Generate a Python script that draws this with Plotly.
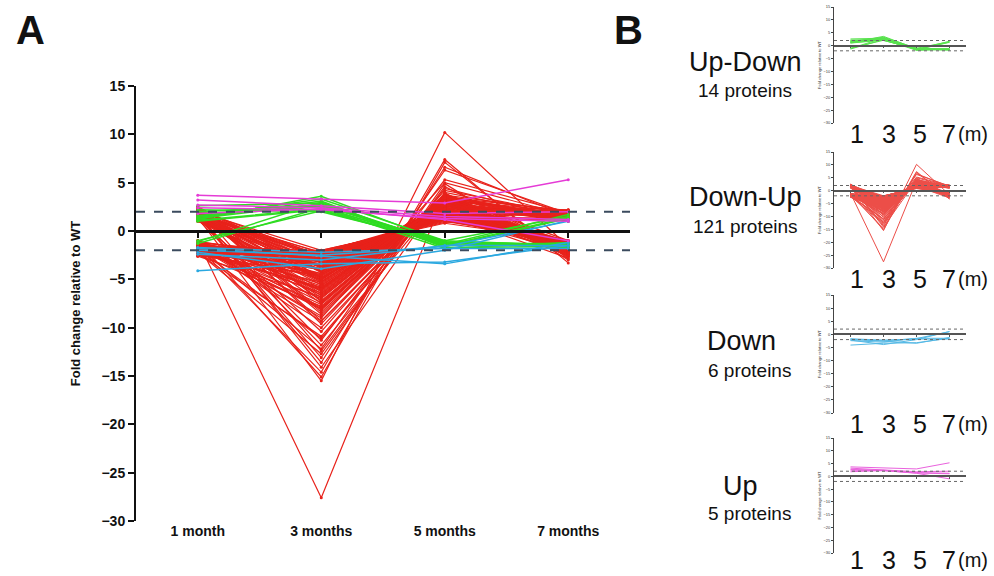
import plotly.graph_objects as go

W, H = 994, 576

months = ["1 month", "3 months", "5 months", "7 months"]
short_months = ["1", "3", "5", "7"]
xpos = [0, 1, 2, 3]
y_ticks = [15, 10, 5, 0, -5, -10, -15, -20, -25, -30]
threshold = 2

# ---- Down-Up (121 proteins, red) ----
red_1m = [1.8, -1.5, 2.2, -2.1, 1.2, -1.0, 2.5, -1.8, 1.5, -2.4, -1.2,
          1.9, -1.6, 1.1, -2.2, 2.3, -1.3, 1.4, -1.9, -2.6, 1.7, -1.1,
          2.0, -1.4, 1.3, -2.0, -1.7, 2.4, -1.2, 1.6, -2.3, 1.0, -1.5,
          -1.8, 2.1, -1.0, 1.5, -2.5, 1.8, -1.3, 2.2, -1.6, 1.2, -2.0,
          1.6, -1.9, 2.4, -1.1, 1.3, -2.2, -1.4, 1.9, -1.7, 2.0, -1.2,
          -2.4, 1.4, -1.5, 2.3, -1.0, 1.1, -1.8, 1.7, -2.1, -1.3, 2.5,
          1.5, -1.6, 2.1, -2.0, 1.2, -1.4, 1.8, -2.6, -1.1, 1.6, -1.9,
          2.2, -1.2, 1.0, -1.7, 2.0, -2.3, 1.4, -1.5, -1.0, 1.9, -2.2,
          1.3, -1.8, 2.4, -1.3, -2.5, 1.7, -1.6, 1.1, -2.0, 2.3, -1.4,
          -1.1, 1.5, -2.1, 1.8, -1.2, 2.1, -1.9, 1.3, -1.5, -2.4, 1.6,
          2.0, -1.7, 1.2, -2.2, 1.9, -1.0, -1.6, 2.4, -1.3, 1.4, -2.0]
red_3m = [-4.2, -3.1, -9.3, -2.5, -5.6, -27.6, -3.8, -6.4, -2.2, -7.8, -4.6,
          -3.3, -12.2, -5.0, -2.8, -8.4, -3.6, -15.5, -4.4, -2.1, -6.9, -3.0,
          -5.3, -2.6, -10.4, -4.0, -3.4, -7.2, -2.4, -13.6, -5.8, -3.2, -8.8,
          -2.0, -4.8, -6.1, -11.3, -3.5, -2.7, -9.0, -4.3, -14.6, -5.1, -3.9,
          -7.5, -2.3, -4.1, -6.6, -3.0, -12.7, -5.5, -2.9, -8.1, -3.7, -10.0,
          -4.7, -6.3, -2.1, -3.3, -15.1, -4.9, -7.0, -2.5, -5.9, -3.1, -9.6,
          -3.6, -2.2, -8.6, -4.5, -11.8, -3.4, -5.2, -6.8, -2.8, -13.1, -4.0,
          -2.6, -5.7, -3.8, -7.6, -2.0, -10.9, -4.2, -3.0, -6.2, -14.1, -3.5,
          -5.4, -2.4, -7.3, -3.9, -4.6, -2.7, -9.3, -6.0, -3.2, -8.2, -2.9,
          -4.4, -6.5, -3.1, -2.3, -7.9, -4.8, -11.1, -3.7, -5.0, -2.1, -6.7,
          -3.3, -8.0, -2.5, -5.3, -4.1, -7.4, -2.8, -12.4, -3.6, -4.9, -6.0]
red_5m = [2.8, 1.9, 3.3, 1.2, 2.5, 3.8, 2.1, 3.0, 1.5, 3.5, 2.4,
          1.7, 6.3, 2.9, 1.4, 3.6, 2.2, 10.2, 2.6, 1.1, 3.1, 2.0,
          3.4, 1.6, 4.2, 2.3, 1.8, 3.2, 1.3, 6.6, 2.7, 2.0, 3.7,
          0.9, 2.5, 3.0, 5.3, 1.9, 1.5, 5.0, 2.8, 7.4, 3.3, 2.1,
          3.6, 1.2, 2.4, 3.1, 1.7, 4.6, 2.9, 1.4, 3.8, 2.2, 3.5,
          2.6, 3.0, 1.0, 2.0, 7.1, 2.7, 3.4, 1.6, 3.2, 1.8, 3.9,
          2.3, 1.3, 3.7, 2.5, 3.6, 1.9, 2.8, 3.3, 1.5, 4.9, 2.4,
          1.6, 3.1, 2.2, 3.5, 0.8, 3.8, 2.6, 1.8, 3.0, 4.0, 2.1,
          2.9, 1.4, 3.4, 2.0, 2.7, 1.7, 3.6, 3.2, 2.3, 3.7, 1.9,
          2.5, 3.3, 1.8, 1.3, 3.5, 2.4, 3.9, 2.2, 2.8, 1.1, 3.0,
          2.0, 3.6, 1.5, 2.9, 2.6, 3.4, 1.7, 4.4, 2.3, 2.7, 3.1]
red_7m = [-1.5, 1.6, -2.1, -1.2, 1.9, -2.7, -1.8, 1.3, -1.0, -2.3, 1.5,
          -1.4, 1.8, -1.9, -1.1, 1.2, -2.5, -1.6, 2.0, -1.3, -1.7, 1.4,
          -2.0, -1.2, 1.7, -1.5, 1.1, -2.2, -1.4, 1.5, -1.8, 2.1, -1.0,
          1.3, -1.6, -2.4, 1.9, -1.3, -1.1, 1.6, -2.0, -3.3, 1.2, -1.5,
          -1.7, 1.4, -1.2, -2.6, 2.2, -1.9, 1.0, -1.4, -2.1, 1.8, -1.6,
          1.5, -2.3, -1.0, 1.7, -2.9, -1.5, 1.2, -1.8, 2.0, -1.3, -2.2,
          -1.1, 1.9, -1.7, -1.4, 1.3, -2.0, -1.6, 1.6, -1.2, -3.0, 1.4,
          -1.8, 1.1, -1.5, 2.1, -1.0, -2.4, 1.7, -1.3, -1.9, 1.5, -1.6,
          1.2, -2.1, -1.4, 1.8, -1.1, -1.7, 1.4, -2.5, -1.2, 2.0, -1.5,
          -1.9, 1.6, -1.3, -1.0, 1.3, -2.2, -1.6, 1.9, -1.4, -1.2, 1.1,
          -2.3, 1.5, -1.7, -1.1, 2.2, -1.4, -2.8, 1.3, -1.8, 1.0, -1.5]

# ---- Up-Down (14 proteins, green) ----
green_1m = [1.2, 1.5, 2.6, 1.3, -1.1, 1.6, -1.3, 1.0, 2.0, 1.4, -1.0, 1.8, 1.1, 2.2]
green_3m = [3.6, 3.3, 2.9, 2.8, 3.0, 2.6, 2.4, 2.2, 2.7, 3.1, 2.1, 2.5, 2.3, 2.0]
green_5m = [-1.2, -1.0, -1.3, -1.5, -1.6, -1.1, -1.8, -1.4, -1.2, -1.7, -1.3, -1.5, -1.0, -1.2]
green_7m = [-1.4, 1.5, -1.6, -1.3, 1.3, -1.5, -1.2, 1.7, -1.4, -1.6, -1.3, 1.4, -1.5, -1.7]

# ---- Down (6 proteins, blue) ----
blue_1m = [-4.1, -2.2, -1.8, -2.0, -2.4, -1.7]
blue_3m = [-3.4, -3.9, -2.6, -2.5, -3.0, -2.2]
blue_5m = [-3.2, -2.0, -3.4, -1.6, -1.5, -1.8]
blue_7m = [-1.5, 1.1, -1.2, 1.0, -1.5, -1.8]

# ---- Up (5 proteins, magenta) ----
mag_1m = [3.7, 3.2, 2.7, 2.4, 1.8]
mag_3m = [3.3, 2.6, 2.4, 2.2, 2.3]
mag_5m = [2.9, 1.8, 1.5, 1.3, 1.2]
mag_7m = [5.3, 2.0, 1.2, 1.0, -1.0]

groups = [
    dict(label="Up-Down", count="14 proteins", color="#2FDC22",
         series=[green_1m, green_3m, green_5m, green_7m]),
    dict(label="Down-Up", count="121 proteins", color="#E8221B",
         series=[red_1m, red_3m, red_5m, red_7m]),
    dict(label="Down", count="6 proteins", color="#2AA8E0",
         series=[blue_1m, blue_3m, blue_5m, blue_7m]),
    dict(label="Up", count="5 proteins", color="#E53BD6",
         series=[mag_1m, mag_3m, mag_5m, mag_7m]),
]
main_order = [1, 0, 2, 3]  # red first, then green, blue, magenta on top

FONT = "Liberation Sans, Arial, Helvetica, sans-serif"


def fx(px):
    return px / W


def fy(py):
    return 1 - py / H


def joined(series):
    xs, ys = [], []
    for i in range(len(series[0])):
        for k in range(4):
            xs.append(xpos[k])
            ys.append(series[k][i])
        xs.append(None)
        ys.append(None)
    return xs, ys


fig = go.Figure()

# ---------- panel A ----------
for gi in main_order:
    g = groups[gi]
    xs, ys = joined(g["series"])
    fig.add_trace(go.Scatter(
        x=xs, y=ys, mode="lines+markers", xaxis="x", yaxis="y",
        line=dict(color=g["color"], width=1.2 if gi == 1 else 1.5),
        marker=dict(size=3, color=g["color"]),
        hoverinfo="skip", showlegend=False))

YR = [-30, 15]
main_ydom = [fy(521), fy(86)]
main_xdom = [fx(136), fx(630)]


def zero_pos(dom):
    return dom[0] + (0 - YR[0]) / (YR[1] - YR[0]) * (dom[1] - dom[0])


layout = dict(
    template="none",
    width=W, height=H, margin=dict(l=0, r=0, t=0, b=0, autoexpand=False),
    paper_bgcolor="white", plot_bgcolor="rgba(0,0,0,0)",
    font=dict(family=FONT, color="#111"),
    showlegend=False,
)
layout["xaxis"] = dict(domain=main_xdom, range=[-0.5, 3.5], anchor="y",
                       automargin=False,
                       tickvals=xpos, ticktext=months, showgrid=False,
                       zeroline=False, showline=False, ticks="",
                       tickfont=dict(size=14, weight="bold", color="#111"))
layout["yaxis"] = dict(domain=main_ydom, range=YR, anchor="x",
                       automargin=False,
                       tickvals=y_ticks, showgrid=False, zeroline=False,
                       showline=True, linewidth=2, linecolor="#111",
                       ticks="outside", ticklen=6, tickwidth=2, tickcolor="#111",
                       tickfont=dict(size=14, weight="bold", color="#111"),
                       title=dict(text="Fold change relative to WT", standoff=18,
                                  font=dict(size=13, weight="bold", color="#111")))
# zero line with category ticks
layout["xaxis6"] = dict(overlaying="x", matches="x", anchor="free",
                        automargin=False,
                        position=zero_pos(main_ydom), showline=True,
                        linewidth=2.5, linecolor="#111", ticks="outside",
                        ticklen=5, tickwidth=2, tickcolor="#111",
                        tickvals=xpos, showticklabels=False, showgrid=False,
                        zeroline=False)
fig.add_trace(go.Scatter(x=xpos, y=[None] * 4, xaxis="x6", yaxis="y",
                         mode="lines", hoverinfo="skip", showlegend=False))

shapes = []
for v in (threshold, -threshold):
    shapes.append(dict(type="line", xref="x domain", yref="y", x0=0, x1=1,
                       y0=v, y1=v, layer="above",
                       line=dict(color="#3B4B5E", width=2, dash="dash")))


def ann(text, px, py, size, **kw):
    return dict(text=text, x=fx(px), y=fy(py), xref="paper", yref="paper",
                xanchor="center", yanchor="middle", showarrow=False,
                font=dict(size=size, color="#111", family=FONT), **kw)


annotations = [
    ann("<b>A</b>", 30, 30, 40),
    ann("<b>B</b>", 628, 30, 40),
]

# ---------- panel B ----------
small_tops = [7, 152, 295, 438]
small_bots = [123, 268, 413, 553]
digit_gap = [11, 11, 11, 7]
label_y = [62, 197, 341, 486]
count_y = [90, 226, 370, 513]
label_x = [745, 745, 741, 740]
count_x = [745, 745, 749, 749]
digit_shift = [6, 5, 3, -1]

for si, g in enumerate(groups):
    n = si + 2
    zn = si + 7
    xs, ys = joined(g["series"])
    fig.add_trace(go.Scatter(
        x=xs, y=ys, mode="lines", xaxis=f"x{n}", yaxis=f"y{n}",
        line=dict(color=g["color"], width=1), opacity=0.8,
        hoverinfo="skip", showlegend=False))
    dom = [fy(small_bots[si]), fy(small_tops[si])]
    layout[f"xaxis{n}"] = dict(domain=[fx(834), fx(966)], range=[-0.5, 3.5],
                               anchor=f"y{n}", automargin=False,
                               tickvals=xpos, showticklabels=False,
                               showgrid=False, zeroline=False, showline=False,
                               ticks="")
    layout[f"yaxis{n}"] = dict(domain=dom, range=YR, anchor=f"x{n}",
                               automargin=False,
                               tickvals=y_ticks, showgrid=False, zeroline=False,
                               showline=True, linewidth=1, linecolor="#444",
                               ticks="outside", ticklen=2, tickwidth=1,
                               tickcolor="#444",
                               tickfont=dict(size=4, color="#333"),
                               title=dict(text="Fold change relative to WT",
                                          standoff=2,
                                          font=dict(size=4, color="#333")))
    layout[f"xaxis{zn}"] = dict(overlaying=f"x{n}", matches=f"x{n}",
                                anchor="free", position=zero_pos(dom),
                                automargin=False,
                                showline=True, linewidth=1.5, linecolor="#555",
                                ticks="outside", ticklen=2, tickwidth=1,
                                tickcolor="#555", tickvals=xpos,
                                showticklabels=False, showgrid=False,
                                zeroline=False)
    fig.add_trace(go.Scatter(x=xpos, y=[None] * 4, xaxis=f"x{zn}", yaxis=f"y{n}",
                             mode="lines", hoverinfo="skip", showlegend=False))
    for v in (threshold, -threshold):
        shapes.append(dict(type="line", xref=f"x{n} domain", yref=f"y{n}",
                           x0=0, x1=1, y0=v, y1=v, layer="above",
                           line=dict(color="#666", width=1, dash="dot")))
    # month numbers under each small chart
    ly = small_bots[si] + digit_gap[si]
    for k, lab in enumerate(short_months):
        annotations.append(dict(text=lab, x=xpos[k], xref=f"x{n}",
                                y=fy(ly), yref="paper",
                                xshift=digit_shift[k], xanchor="center",
                                yanchor="middle", showarrow=False,
                                font=dict(size=25, color="#111", family=FONT)))
    annotations.append(ann("(m)", 973, ly, 20))
    annotations.append(ann(g["label"], label_x[si], label_y[si], 27))
    annotations.append(ann(g["count"], count_x[si], count_y[si], 19))

layout["shapes"] = shapes
layout["annotations"] = annotations
fig.update_layout(**layout)
fig.write_html("out.html", config={"displayModeBar": False},
               post_script="document.body.style.margin='0';"
                           "document.body.style.overflow='hidden';")
